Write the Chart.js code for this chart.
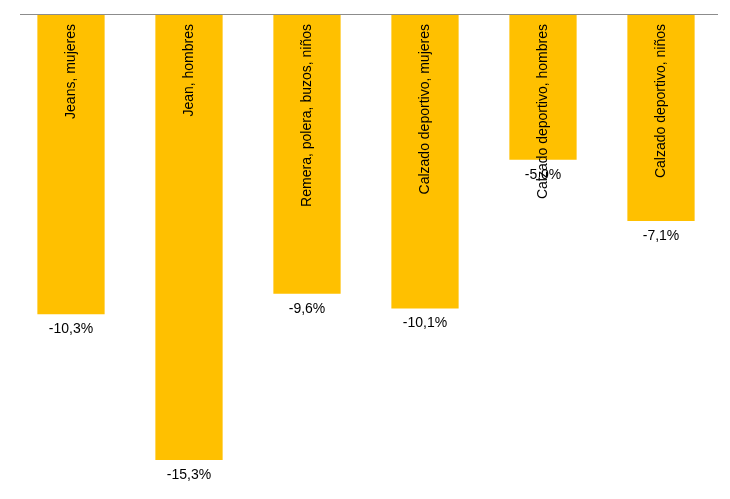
<!DOCTYPE html>
<html>
<head>
<meta charset="utf-8">
<script src="https://cdn.jsdelivr.net/npm/chart.js@4/dist/chart.umd.min.js"></script>
<style>
  body { margin: 0; background: #fff; }
</style>
</head>
<body>
<canvas id="grafico" width="730" height="499"></canvas>
<script>
const categorias = ['Jeans, mujeres', 'Jean, hombres', 'Remera, polera, buzos, niños',
    'Calzado deportivo, mujeres', 'Calzado deportivo, hombres', 'Calzado deportivo, niños'];
const variaciones = [-10.3, -15.3, -9.6, -10.1, -5.0, -7.1];

// etiquetas dentro de las barras y valores debajo
const etiquetasPlugin = {
    id: 'etiquetas',
    afterDatasetsDraw(chart) {
        const ctx = chart.ctx;
        const area = chart.chartArea;
        const y0 = chart.scales.y.getPixelForValue(0);
        ctx.save();
        ctx.strokeStyle = '#8c8c8c';
        ctx.lineWidth = 1;
        ctx.beginPath();
        ctx.moveTo(area.left + 8, y0 + 0.5);
        ctx.lineTo(area.right - 2, y0 + 0.5);
        ctx.stroke();

        const meta = chart.getDatasetMeta(0);
        ctx.fillStyle = '#000';
        ctx.font = '14px "Liberation Sans", Arial, sans-serif';
        meta.data.forEach((bar, i) => {
            const v = variaciones[i];
            ctx.textAlign = 'center';
            ctx.textBaseline = 'top';
            ctx.fillText(v.toFixed(1).replace('.', ',') + '%', bar.x, bar.y + 8);

            ctx.save();
            ctx.translate(bar.x, y0 + 10);
            ctx.rotate(-Math.PI / 2);
            ctx.textAlign = 'right';
            ctx.textBaseline = 'middle';
            ctx.fillText(categorias[i], 0, 0);
            ctx.restore();
        });
        ctx.restore();
    }
};

new Chart(document.getElementById('grafico'), {
    type: 'bar',
    data: {
        labels: categorias,
        datasets: [{
            data: variaciones,
            backgroundColor: '#ffc000',
            categoryPercentage: 1,
            barPercentage: 0.57
        }]
    },
    options: {
        responsive: false,
        animation: false,
        layout: { padding: { left: 12, right: 10, top: 14, bottom: 39 } },
        plugins: { legend: { display: false }, tooltip: { enabled: false } },
        scales: {
            x: { display: false },
            y: { display: false, min: -15.3, max: 0 }
        }
    },
    plugins: [etiquetasPlugin]
});
</script>
</body>
</html>
